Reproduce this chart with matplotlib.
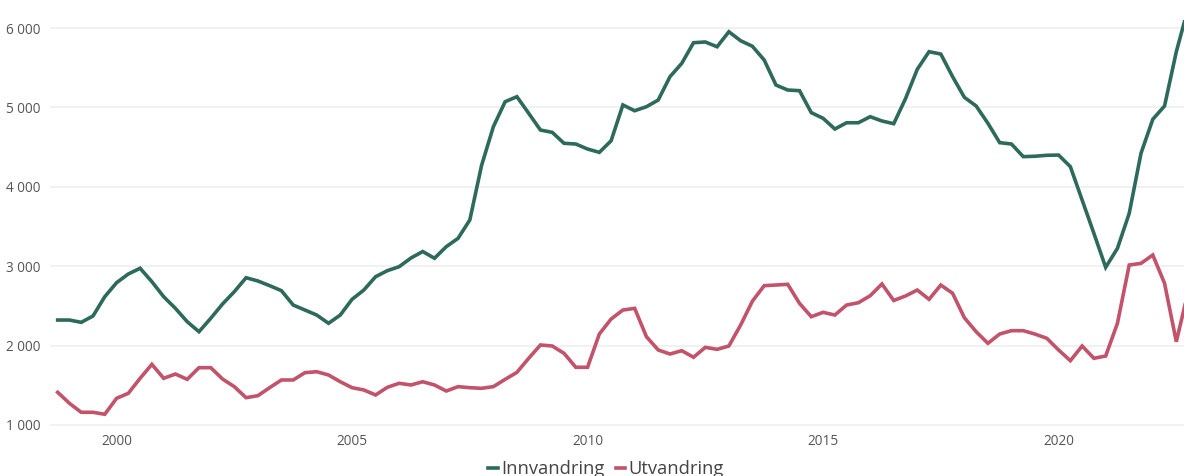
import matplotlib
matplotlib.use("Agg")
import matplotlib.pyplot as plt
from matplotlib.ticker import FuncFormatter

# quarterly data, 1998 Q4 - 2022 Q4
start_year = 1998
start_quarter = 4

innvandring = [
    2322, 2322, 2293, 2373, 2616, 2792, 2902, 2974, 2805, 2616,
    2469, 2301, 2175, 2344, 2524, 2679, 2855, 2814, 2755, 2692,
    2511, 2448, 2385, 2281, 2385, 2583, 2700, 2868, 2944, 2994,
    3103, 3185, 3100, 3246, 3351, 3582, 4270, 4757, 5072, 5135,
    4926, 4715, 4686, 4548, 4539, 4476, 4434, 4580, 5031, 4958,
    5009, 5093, 5387, 5555, 5815, 5824, 5764, 5953, 5840, 5770,
    5597, 5282, 5219, 5211, 4934, 4863, 4728, 4807, 4807, 4883,
    4829, 4795, 5110, 5480, 5702, 5672, 5387, 5127, 5018, 4800,
    4556, 4539, 4380, 4385, 4397, 4400, 4254, 3834, 3414, 2986,
    3225, 3666, 4422, 4850, 5018, 5702, 6250,
]

utvandring = [
    1412, 1273, 1160, 1160, 1135, 1336, 1399, 1588, 1764, 1588,
    1642, 1575, 1722, 1722, 1579, 1483, 1344, 1369, 1470, 1567,
    1567, 1659, 1671, 1630, 1545, 1470, 1441, 1378, 1475, 1525,
    1504, 1545, 1504, 1428, 1483, 1470, 1462, 1483, 1575, 1663,
    1840, 2008, 1995, 1903, 1727, 1727, 2146, 2335, 2448, 2469,
    2112, 1945, 1894, 1936, 1853, 1978, 1953, 1995, 2259, 2560,
    2755, 2763, 2772, 2532, 2364, 2419, 2385, 2511, 2540, 2628,
    2776, 2568, 2625, 2700, 2583, 2763, 2659, 2351, 2175, 2029,
    2146, 2188, 2188, 2145, 2092, 1945, 1810, 1995, 1840, 1869,
    2281, 3015, 3036, 3141, 2785, 2049, 2680,
]

yticks = [1000, 2000, 3000, 4000, 5000, 6000]
xticks = [2000, 2005, 2010, 2015, 2020]

# time axis: year + fraction of quarter
periods = []
y, q = start_year, start_quarter
for _ in innvandring:
    periods.append(y + (q - 1) / 4)
    q += 1
    if q > 4:
        q = 1
        y += 1

plt.rcParams['font.family'] = ['Open Sans', 'DejaVu Sans']

fig = plt.figure(figsize=(11.84, 4.76), dpi=100)
ax = fig.add_axes([50 / 1184, 46 / 476, 1 - 50 / 1184, 410 / 476])

green = '#2e6a5b'
red = '#c1536a'
ax.plot(periods, innvandring, color=green, lw=2.6, label='Innvandring',
        solid_joinstyle='miter')
ax.plot(periods, utvandring, color=red, lw=2.6, label='Utvandring',
        solid_joinstyle='miter')

ax.set_xlim(1998.587, 2022.663)
ax.set_ylim(937, 6101)
ax.set_yticks(yticks)
ax.set_xticks(xticks)
ax.yaxis.set_major_formatter(FuncFormatter(lambda v, p: f"{int(v):,}".replace(",", " ")))
ax.grid(axis='y', color='#f1f1f1', lw=1.4)
ax.set_axisbelow(True)
for s in ax.spines.values():
    s.set_visible(False)
ax.tick_params(length=0, labelsize=9.8, colors='#555555')
ax.tick_params(axis='y', pad=7)
ax.tick_params(axis='x', pad=3)

fig.legend(loc='center', bbox_to_anchor=(606 / 1184, 7 / 476), ncol=2, frameon=False,
           fontsize=13.2, labelcolor='#444444', handlelength=0.5, handletextpad=0.2,
           columnspacing=0.6, borderaxespad=0)

fig.savefig('out.png', dpi=100)
